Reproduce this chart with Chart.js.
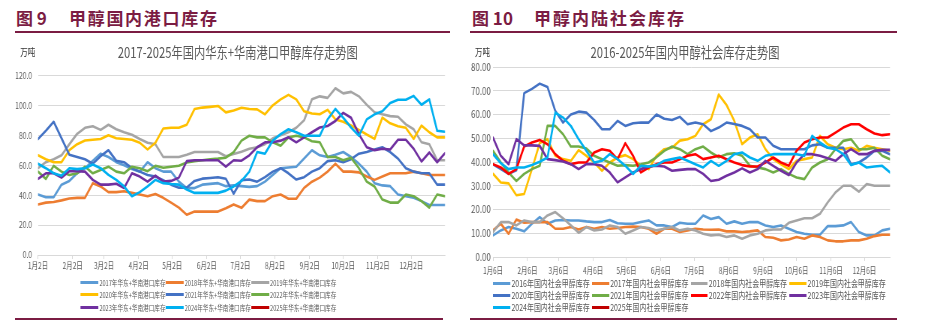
<!DOCTYPE html>
<html><head><meta charset="utf-8">
<script src="https://cdn.jsdelivr.net/npm/chart.js@4.4.1/dist/chart.umd.min.js"></script>
<style>
html,body{margin:0;padding:0;background:#fff;}
body{width:926px;height:324px;position:relative;overflow:hidden;font-family:"Noto Sans CJK SC","Noto Sans",sans-serif;}
.hdr{position:absolute;top:6px;height:24px;line-height:24px;color:#7B1C43;font-weight:bold;font-size:17px;white-space:nowrap;}
.rule{position:absolute;height:2px;background:#7B1C43;}
.panel{position:absolute;top:40px;height:284px;transform:scaleX(0.75);transform-origin:0 0;}
.unit{position:absolute;top:6px;font-size:10px;line-height:12px;color:#333;white-space:nowrap;}
.ctitle{position:absolute;top:3px;font-size:15px;line-height:18px;color:#595959;white-space:nowrap;transform:translateX(-50%);}
.cwrap{position:absolute;left:0;}
.legend{position:absolute;display:grid;}
.li{display:flex;align-items:center;white-space:nowrap;color:#595959;}
.li i{display:inline-block;height:3px;margin-right:1.5px;flex:none;}
</style>
</head><body>

<div class="hdr" style="left:16px">图 9</div>
<div class="hdr" style="left:69px;letter-spacing:1.7px">甲醇国内港口库存</div>
<div class="rule" style="left:15px;width:435px;top:31px"></div>
<div class="hdr" style="left:472px">图 10</div>
<div class="hdr" style="left:534px;letter-spacing:2px">甲醇内陆社会库存</div>
<div class="rule" style="left:470px;width:427px;top:31px"></div>
<div class="rule" style="left:15px;width:428px;top:318px"></div>
<div class="rule" style="left:470px;width:427px;top:318px"></div>

<div class="panel" id="pL" style="left:0;width:607px">
  <div class="unit" style="left:27px">万吨</div>
  <div class="ctitle" style="left:317px">2017-2025年国内华东+华南港口甲醇库存走势图</div>
  <div class="cwrap" style="top:22px;width:607px;height:215px"><canvas id="cL"></canvas></div>
  <div class="legend" id="lgL" style="left:107px;top:236px;grid-template-columns:repeat(3,113.8px);grid-auto-rows:12.5px;font-size:7.5px"></div>
</div>

<div class="panel" id="pR" style="left:460px;width:583px">
  <div class="unit" style="left:20px">万吨</div>
  <div class="ctitle" style="left:300px">2016-2025年国内甲醇社会库存走势图</div>
  <div class="cwrap" style="top:17px;width:583px;height:222px"><canvas id="cR"></canvas></div>
  <div class="legend" id="lgR" style="left:44.4px;top:237.4px;grid-template-columns:repeat(4,131.6px);grid-auto-rows:11.9px;font-size:9.3px"></div>
</div>

<script>
// ---------- data ----------
const WEEK = 7;
const tickDays = [0,31,59,90,120,151,181,212,243,273,304,334];
const portTickLabels = ["1月2日","2月2日","3月2日","4月2日","5月2日","6月2日","7月2日","8月2日","9月2日","10月2日","11月2日","12月2日"];
const socialTickLabels = ["1月6日","2月6日","3月6日","4月6日","5月6日","6月6日","7月6日","8月6日","9月6日","10月6日","11月6日","12月6日"];

const portLabels = ["2017年华东+华南港口库存","2018年华东+华南港口库存","2019年华东+华南港口库存","2020年华东+华南港口库存","2021年华东+华南港口库存","2022年华东+华南港口库存","2023年华东+华南港口库存","2024年华东+华南港口库存","2025年华东+华南港口库存"];
const port2017 = [40.4,38.6,38.6,47,49.5,54.6,58,63,67.7,65.5,62,60,57.4,55.7,62,58,55.7,55.7,49,44.7,44.7,47,47.5,48,46,46.5,46,45.5,46,49,53.5,58,58.5,59,64.5,70,66.6,65.5,67,68.8,65.5,61,55.7,48,46.5,46,40.4,39.3,38.2,36,33.4,33.4,33.4];
const port2018 = [33.8,35,35.4,36.5,37.8,38.2,38.2,48,45.8,42,42,42.6,41.5,40.4,39.3,40.8,38.2,35,31.7,26.9,29,29,29,29,31.2,33.8,31.5,37,36,36,39.3,40.4,37.6,37.6,44.8,49,51.7,55.7,61,55.7,55.7,55.2,52.4,50.2,52.4,54.6,54.6,54.6,55.7,54.6,53.5,53.5,53.5];
const port2019 = [58,62,64,66.6,74,81,85,86,83.6,87,84,82,80.3,77.5,75,74,65.5,65.5,65.5,67,68.8,68.8,68.8,68.8,66,67.5,69,71,72,74,78,80,82,85,90,104,106,105,111.4,108,109,106,100.4,95.4,94,92.8,92.4,87.3,84,75.3,74,63.3,63.3];
const port2020 = [66.6,64,62,62,70,74,76.5,77,77.5,80,78,77.5,77,75,70.5,75,84.5,85,85,87,97.6,98.5,99,99.6,95.3,96.5,98.4,97.5,97.3,94,100,104,107,104,96,94.5,94,97,90.6,89,86.5,83.6,80.5,77.6,91.8,88,86,85,77.6,86.5,82,78.6,78.6];
const port2021 = [77.5,83,89,78,67,65.5,64,61,66,70,63,62,58,55.7,53.5,52.4,50,47,45,45,49.5,51,51.5,52,51,41,50,50.4,49,52,55.7,58,54.6,50.4,52,55.7,58,62.7,63.3,62,64,67.7,68.8,70.5,72,68.8,64.4,58,55.7,54.6,54.6,47,47];
const port2022 = [55.7,50.9,59.6,55.7,53.5,54.6,59,54.6,56.8,59,55.7,54.6,59,58,56,59.6,58.3,59,59.6,61.8,62.7,63.3,64,64.4,65,68.8,76.4,79.7,78.6,78.6,75.3,73,78.6,79.7,78.6,76,75.3,65.5,65.5,63.3,65,58,49,45.8,37,35,35,40.4,39.3,36,31.7,40.4,39.3];
const port2023 = [50.9,54.6,54.6,51.7,56,56,55.7,50.2,47,47,47.6,44.8,54.6,52.4,49,53,49,49.5,51.7,62.7,63.3,63.3,63.3,63.3,59,63.3,63,66.6,72,75.3,75.3,76.4,78.6,75.3,78.6,82,85.2,86.2,89.5,95,91.7,80.8,72,70,71,70.5,77,77,71,62.5,68.5,62,68];
const port2024 = [61,58,54.6,53,58,57.4,58,60.5,58,53.5,50.2,45.8,39.3,42,45.8,50.2,48,47.4,47,43.7,41.5,41.5,41.5,41.5,43,45.8,49.5,55.7,68.8,67.7,76.4,80.8,84,82,79.7,79.7,79.7,90.6,97.6,91.7,85.2,79.7,90.6,94,96,101.5,103.7,103.7,106.3,100.4,104,83,82.4];
const port2025 = [];
const portColors = ["#5B9BD5","#ED7D31","#A5A5A5","#FFC000","#4472C4","#70AD47","#7030A0","#00B0F0","#C00000"];

const socialLabels = ["2016年国内社会甲醇库存","2017年国内社会甲醇库存","2018年国内社会甲醇库存","2019年国内社会甲醇库存","2020年国内社会甲醇库存","2021年国内社会甲醇库存","2022年国内社会甲醇库存","2023年国内社会甲醇库存","2024年国内社会甲醇库存","2025年国内社会甲醇库存"];
const social2016 = [9.1,11.2,12.6,11.9,10.8,14,16.8,14,15.4,15.6,15.4,15.4,15,14.7,14.7,15.6,14.2,14,14,14.7,15.4,13.3,13.3,12.6,14.4,14,14,17.5,16,16.8,14,15,14,14.7,14.7,13.3,12.6,13.3,11.9,10.5,9.8,9.4,9.4,13,13,13.3,14.7,10.5,9.1,9.1,11.2,11.9];
const social2017 = [11.2,14,9.8,15.8,14.4,14.7,14.7,14.7,11.9,11.9,12.6,11.6,12.6,11.9,12.6,11.9,12.2,12.6,12.8,12.6,11.9,9.8,11.9,11.9,10.5,11.2,11.9,11.6,11.5,11.6,10.8,10.8,10.5,10.8,11.2,8.4,8.1,7,7.4,8.4,7.7,9.1,8.4,7,6.6,6.6,7,7,7.7,8.8,9.4,9.4];
const social2018 = [10.5,14.7,14.7,13.3,15.4,14.7,14.7,17.5,18.9,16.3,13.3,10.2,12.6,11.2,11.6,13.3,12.6,9.8,11.2,12.6,12.2,11.2,11.9,12.6,11.2,11.9,11.2,9.8,9.1,9.4,8.4,9.1,7.7,9.1,9.8,11.2,11.6,11.6,14.4,15.4,16.3,16.3,18.2,23,27.2,30,30,27.5,30.7,30,30,30];
const social2019 = [35,31.4,31,26,26.5,37,48,49.6,42.6,41.2,40.5,45,42.6,39.8,36.3,39.8,41.9,42.9,41.2,38.4,37,42.6,45.4,46,49,49.6,51,55.9,58,68.4,64,57.3,47.5,50.3,51.7,45.4,41.2,39,37,40.5,41.2,41.9,51,47.5,46,45.4,46,44.7,46.8,46,45.4,44.7];
const social2020 = [39,37,35,36.5,69,70.8,73,71.6,61.5,56.6,60,61.2,60.8,57.7,53.8,53.8,57.3,55.2,56.3,56.6,56.6,60,58.2,57.7,59,55.9,56.6,55.9,53,54.5,56.6,56,55.2,53.8,50.3,50.3,46.8,45.4,45.4,45.4,45.4,47,47.5,46,46,46,39,39.8,41.9,44.7,44.7,43.3];
const social2021 = [44.7,39.8,35.6,32,35,37,38.4,55.2,55.2,51.7,46.5,46.5,45.7,42.6,41.2,39.8,38.4,38.7,38.4,39,39.8,42,44.7,46.5,45.4,43.3,45.4,46.5,44,42,43.3,43.7,42.6,38.4,37.7,37,35.6,37,35,33.5,32.8,37.7,39.8,41.2,45.4,48.9,49.6,45.4,45.4,46,42.6,41.2];
const social2022 = [39.1,37.7,35,37,46.5,48.2,49.3,47.5,43.3,40.5,39.1,39.8,39.8,44,45.4,44.7,41.2,47.9,42.6,35.6,37.7,39.1,39.8,39.8,41.2,42.6,43.3,41.2,41.9,42.6,41.2,39.8,38.7,38.1,38.1,39.8,41.9,39.8,38.4,44.7,48.2,49.6,50.3,50.3,52.4,54.5,55.9,55.9,53.8,52,51.3,51.7];
const social2023 = [50.3,42.6,39.1,49.6,47,47,46.8,41.2,40.8,40.2,39.1,37,39.1,39.1,38.4,35.6,31.4,33.5,35.6,37,38.1,38.4,38.1,36.3,36.7,37,37,35,32,32.5,34.2,35.6,37.3,35.6,37,40.5,38.4,36.3,34.5,39.8,43.3,43.3,42.6,41.6,40.5,43.3,45.4,43.3,43.3,44.7,45.1,45.1];
const social2024 = [43.3,39.5,37,37.7,37.7,38.7,40.1,41.9,60.8,58.7,55.2,49.6,44.7,39.8,40.5,43.3,41.2,38.4,35,38.4,38.1,38.7,40.5,41.2,41.9,40.5,39.1,37.7,40.5,38.4,40.5,43.3,44,41.9,40.5,42.6,43.3,43.3,43.3,43.3,42.6,51,48.2,46,45.4,43.3,38.7,39.8,37.7,38.1,38.4,35.6];
const social2025 = [];
const socialColors = ["#5B9BD5","#ED7D31","#A5A5A5","#FFC000","#4472C4","#70AD47","#FF0000","#7030A0","#00B0F0","#C00000"];

// ---------- drawing ----------
Chart.defaults.font.family = '"Noto Sans CJK SC","Noto Sans",sans-serif';
const GRID = '#D9D9D9', TXT = '#595959';

function makeChart(canvasId, legendId, labels, series, colors, cfg) {
  const n = series.length;
  const datasets = series.map((vals, k) => ({
    label: labels[k],
    data: vals.map((v, i) => ({x: i * WEEK, y: v})),
    borderColor: colors[k], backgroundColor: colors[k],
    borderWidth: 2.6, pointRadius: 0, pointHoverRadius: 0,
    tension: 0, fill: false, order: n - k,
    borderJoinStyle: 'round', borderCapStyle: 'round'
  }));
  new Chart(document.getElementById(canvasId), {
    type: 'line',
    data: {datasets},
    options: {
      animation: false, responsive: true, maintainAspectRatio: false,
      events: [],
      layout: {padding: {top: cfg.padTop, right: cfg.padRight, left: 0, bottom: 0}},
      plugins: {legend: {display: false}, title: {display: false}, tooltip: {enabled: false}},
      scales: {
        x: {
          type: 'linear', min: 0, max: cfg.xMax,
          afterBuildTicks: s => { s.ticks = tickDays.map(v => ({value: v})); },
          afterFit: s => { s.height = cfg.xH; },
          ticks: {autoSkip: false, maxRotation: 0, minRotation: 0, padding: cfg.xPad,
                  color: TXT, font: {size: 8.6}, callback: (v, i) => cfg.tickLabels[i]},
          grid: {drawOnChartArea: false, drawTicks: true, tickLength: 4, color: GRID},
          border: {display: true, color: GRID, width: 1}
        },
        y: {
          min: 0, max: cfg.yMax,
          afterFit: s => { s.width = cfg.yW; },
          ticks: {stepSize: cfg.yStep, padding: cfg.yPad, color: TXT, font: {size: cfg.yFont},
                  callback: v => Number(v).toFixed(cfg.dec)},
          grid: {color: GRID, drawTicks: false, lineWidth: 1},
          border: {display: false}
        }
      }
    }
  });
  const lg = document.getElementById(legendId);
  labels.forEach((lab, k) => {
    const d = document.createElement('div');
    d.className = 'li';
    const sw = document.createElement('i');
    sw.style.width = cfg.swatch + 'px';
    sw.style.background = colors[k];
    const t = document.createElement('span');
    t.textContent = lab;
    d.appendChild(sw); d.appendChild(t);
    lg.appendChild(d);
  });
}

makeChart('cL', 'lgL', portLabels,
  [port2017, port2018, port2019, port2020, port2021, port2022, port2023, port2024, port2025],
  portColors,
  {padTop: 10, padRight: 13.7, xMax: 364, xH: 22, xPad: 2, yMax: 120, yStep: 20, dec: 1,
   yW: 50.7, yPad: 8, yFont: 9, tickLabels: portTickLabels, swatch: 24});

makeChart('cR', 'lgR', socialLabels,
  [social2016, social2017, social2018, social2019, social2020, social2021, social2022, social2023, social2024, social2025],
  socialColors,
  {padTop: 10, padRight: 9.7, xMax: 357, xH: 22, xPad: 5, yMax: 80, yStep: 10, dec: 2,
   yW: 44, yPad: 3, yFont: 10.5, tickLabels: socialTickLabels, swatch: 22.7});
</script>
</body></html>
